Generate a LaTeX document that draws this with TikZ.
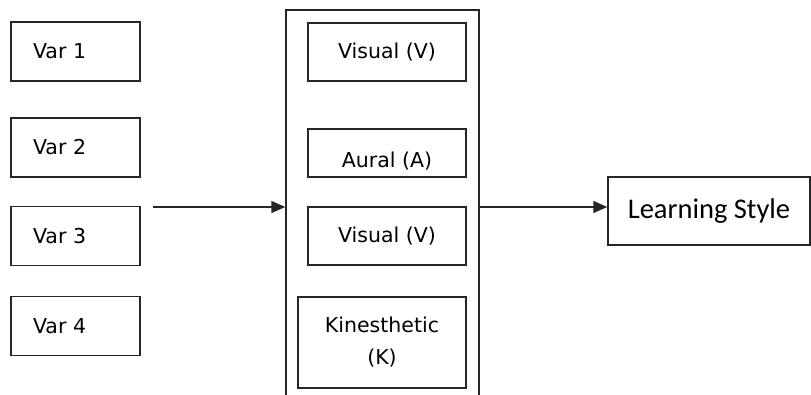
\documentclass[tikz,border=0pt]{standalone}
\usepackage{fontspec}
\setmainfont{DejaVu Sans}
\newfontfamily\calfont{Carlito}
\usetikzlibrary{arrows.meta}
\newcommand{\dn}[1]{\raisebox{-3pt}{#1}}
\begin{document}
\begin{tikzpicture}[x=1pt,y=-1pt,
  box/.style={draw=black!85, line width=1.5pt, rectangle, inner sep=0pt, font=\fontsize{20.5}{32}\selectfont},
  varbox/.style={box, minimum height=59pt, text width=85pt, inner xsep=22pt, align=left},
  stylebox/.style={box, minimum width=158pt},
  conn/.style={draw=black!85, line width=1.5pt, -{Triangle[length=14pt,width=12pt]}}]
\useasboundingbox (0,0) rectangle (811,395);
\clip (0,0) rectangle (811,395);
\node[varbox] (v1) at (75.5,51.5) {\dn{Var 1}};
\node[varbox] (v2) at (75.5,147.5) {\dn{Var 2}};
\node[varbox] (v3) at (75.5,236) {\dn{Var 3}};
\node[varbox] (v4) at (75.5,326) {\dn{Var 4}};
\node[box, minimum width=193pt, minimum height=390pt] (grp) at (382.5,205) {};
\node[stylebox, minimum height=58pt] (vis1) at (387,52) {\dn{Visual (V)}};
\node[stylebox, minimum height=48pt, text height=16pt, text depth=0pt] (aur) at (387,153) {\raisebox{-7pt}{Aural (A)}};
\node[stylebox, minimum height=58pt] (vis2) at (387,236) {\raisebox{-4pt}{Visual (V)}};
\node[box, minimum width=168pt, minimum height=91pt] (kin) at (382,342.5) {\raisebox{-5pt}{\parbox{160pt}{\centering Kinesthetic\\(K)}}};
\node[box, minimum width=202pt, minimum height=68pt, font=\calfont\fontsize{28.5}{34}\selectfont] (ls) at (709,211) {\raisebox{-1pt}{Learning Style}};
\coordinate (in) at (153,207);
\draw[conn] (in) -- (grp.west |- in);
\draw[conn] (grp.east |- in) -- (ls.west |- in);
\end{tikzpicture}
\end{document}
